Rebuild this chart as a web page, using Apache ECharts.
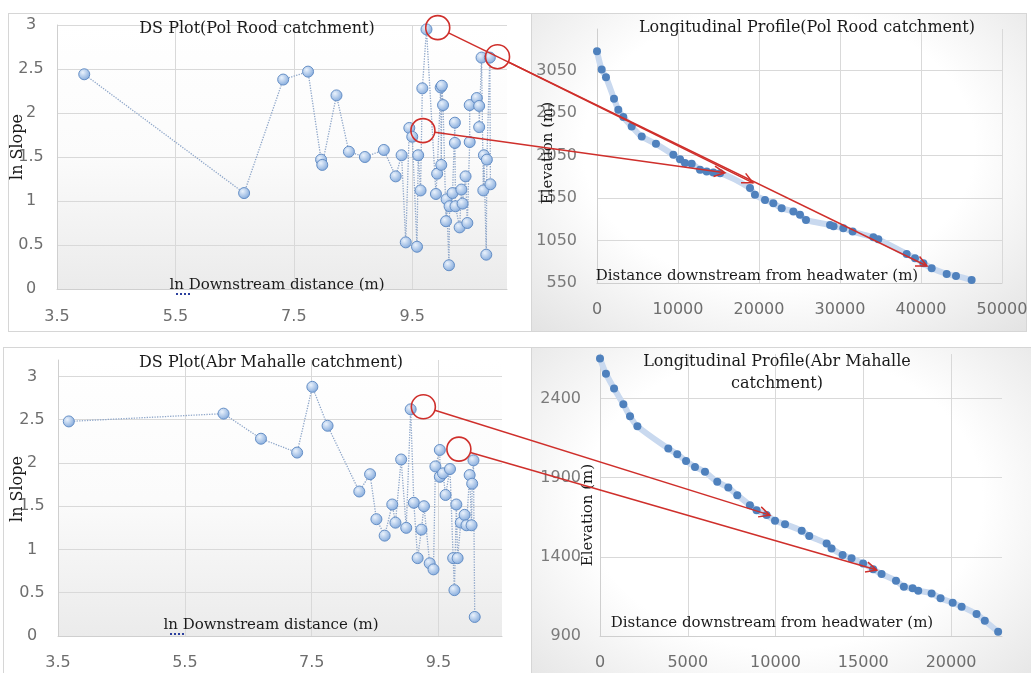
<!DOCTYPE html>
<html><head><meta charset="utf-8">
<script src="https://cdn.jsdelivr.net/npm/echarts@6/dist/echarts.min.js"></script>
<style>
html,body{margin:0;padding:0;background:#fff;}
#wrap{position:relative;width:1031px;height:673px;overflow:hidden;}
.panel{position:absolute;box-sizing:border-box;border:1px solid #d6d6d6;}
#chart{position:absolute;left:0;top:0;width:1031px;height:673px;}
</style></head><body>
<div id="wrap">
<div class="panel" style="left:8px;top:13px;width:524px;height:319px;background:#fff"></div>
<div class="panel" style="left:531px;top:13px;width:496px;height:319px;background:radial-gradient(ellipse 72% 80% at 50% 42%, #ffffff 55%, #e3e3e3 100%)"></div>
<div class="panel" style="left:3px;top:347px;width:529px;height:340px;background:#fff"></div>
<div class="panel" style="left:531px;top:347px;width:505px;height:340px;background:radial-gradient(ellipse 72% 80% at 50% 45%, #ffffff 55%, #e3e3e3 100%)"></div>
<div id="chart"></div>
</div>
<script>
// ---------- DATA ----------
// DS plot, Pol Rood catchment (ln downstream distance, ln slope)
const dsPolLnDist = [3.96,6.66,7.32,7.74,7.96,7.98,8.22,8.43,8.70,9.02,9.22,9.32,9.39,9.45,9.50,9.58,9.60,9.64,9.67,9.74,9.90,9.92,9.98,9.99,10.00,10.02,10.07,10.08,10.12,10.13,10.18,10.22,10.22,10.23,10.30,10.33,10.35,10.40,10.43,10.47,10.47,10.59,10.63,10.63,10.67,10.70,10.71,10.75,10.76,10.81,10.82];
const dsPolLnSlope = [2.44,1.09,2.38,2.47,1.47,1.41,2.20,1.56,1.50,1.58,1.28,1.52,0.53,1.83,1.73,0.48,1.52,1.12,2.28,2.95,1.08,1.31,2.29,1.41,2.31,2.09,0.77,1.02,0.27,0.94,1.09,1.89,1.66,0.94,0.70,1.13,0.97,1.28,0.75,1.67,2.09,2.17,2.08,1.84,2.63,1.12,1.52,0.39,1.47,2.63,1.19];
// Longitudinal profile, Pol Rood catchment
const polDist = [0,580,1110,2100,2630,3250,4280,5520,7280,9420,10250,10860,11690,12720,13540,14360,15190,18890,19500,20740,21770,22800,24240,25060,25800,28770,29200,30410,31560,34120,34730,38230,39260,40290,41320,43170,44320,46250];
const polElev = [3278,3062,2972,2720,2590,2503,2393,2275,2188,2060,2008,1962,1953,1883,1863,1850,1843,1667,1588,1528,1490,1430,1392,1352,1293,1233,1218,1195,1155,1088,1065,892,842,782,723,657,633,585];
// DS plot, Abr Mahalle catchment
const dsAbrLnDist = [3.67,6.11,6.70,7.27,7.51,7.75,8.25,8.42,8.52,8.65,8.77,8.82,8.91,8.99,9.06,9.11,9.17,9.23,9.27,9.36,9.42,9.45,9.52,9.52,9.57,9.61,9.68,9.73,9.75,9.78,9.80,9.85,9.91,9.94,9.99,10.02,10.03,10.05,10.07];
const dsAbrLnSlope = [2.48,2.57,2.28,2.12,2.88,2.43,1.67,1.87,1.35,1.16,1.52,1.31,2.04,1.25,2.62,1.54,0.90,1.23,1.50,0.84,0.77,1.96,2.15,1.84,1.88,1.63,1.93,0.90,0.53,1.52,0.90,1.31,1.40,1.28,1.86,1.28,1.76,2.03,0.22];
// Longitudinal profile, Abr Mahalle catchment
const abrDist = [0,340,800,1330,1710,2130,3890,4400,4900,5410,5980,6680,7310,7820,8540,8920,9490,9970,10540,11490,11920,12910,13190,13820,14330,14990,15560,16040,16860,17310,17810,18130,18890,19400,20090,20600,21450,21920,22680];
const abrElev = [2651,2556,2462,2363,2287,2224,2083,2048,2005,1967,1936,1873,1837,1789,1726,1694,1663,1627,1606,1564,1531,1484,1453,1411,1390,1358,1321,1291,1249,1211,1201,1186,1169,1138,1110,1085,1039,996,927];
// Texts
const titles = ['DS Plot(Pol Rood catchment)','Longitudinal Profile(Pol Rood catchment)','DS Plot(Abr Mahalle catchment)','Longitudinal Profile(Abr Mahalle','catchment)'];
const xNames = ['ln Downstream distance (m)','Distance downstream from headwater (m)'];
const yNames = ['ln Slope','Elevation (m)'];
// Annotations: circled DS points [grid, x, y] -> arrow tip on profile [grid, x, y]
const annFrom = [[0,9.93,2.97],[0,10.94,2.64],[0,9.68,1.80],[2,9.26,2.65],[2,9.82,2.16]];
const annTo   = [[1,40740,750],[1,19260,1729],[1,15800,1847],[3,9680,1663],[3,15770,1316]];

// ---------- CHART ----------
const zip = (a,b) => a.map((v,i)=>[v,b[i]]);
const chart = echarts.init(document.getElementById('chart'));
const plotBg = {type:'linear',x:0,y:0,x2:0,y2:1,colorStops:[{offset:0,color:'#ffffff'},{offset:0.5,color:'#fbfbfb'},{offset:1,color:'#ebebeb'}]};
const tickLab = (margin, extra) => Object.assign({fontFamily:'DejaVu Sans',fontSize:16,color:'#6e6e6e',margin:margin,showMaxLabel:false,formatter:v=>String(v)}, extra||{});
const split = {show:true,showMaxLine:false,lineStyle:{color:'#d9d9d9',width:1}};
const axLine = {show:true,onZero:false,lineStyle:{color:'#cfcfcf',width:1}};
const sphere = {type:'radial',x:0.38,y:0.35,r:0.7,colorStops:[{offset:0,color:'#eaf2fc'},{offset:1,color:'#7ea6da'}]};

const dsSeries = (xi, data) => ({type:'line',xAxisIndex:xi,yAxisIndex:xi,data:data,symbol:'circle',symbolSize:11,
  lineStyle:{type:'dotted',color:'#8ea6c9',width:1.3},itemStyle:{color:sphere,borderColor:'#658fc6',borderWidth:1},z:3});
const profSeries = (xi, data) => ({type:'line',xAxisIndex:xi,yAxisIndex:xi,data:data,smooth:0.3,symbol:'circle',symbolSize:8,
  showAllSymbol:true,lineStyle:{color:'#c9d9ef',width:6},itemStyle:{color:'#4f81bd'},z:3});

chart.setOption({
  animation:false,
  grid:[
    {left:57,top:25,width:450,height:264,show:true,borderWidth:0,backgroundColor:plotBg},
    {left:597,top:29,width:405,height:254},
    {left:58,top:360,width:444,height:276,show:true,borderWidth:0,backgroundColor:plotBg},
    {left:600,top:354,width:402,height:282}
  ],
  xAxis:[
    {gridIndex:0,type:'value',min:3.5,max:11.1,interval:2,axisLine:axLine,axisTick:{show:false},axisLabel:tickLab(20),splitLine:split},
    {gridIndex:1,type:'value',min:0,max:50000,interval:10000,axisLine:axLine,axisTick:{show:false},axisLabel:tickLab(19,{showMaxLabel:true}),splitLine:{show:true,lineStyle:{color:'#d9d9d9'}}},
    {gridIndex:2,type:'value',min:3.5,max:10.5,interval:2,axisLine:axLine,axisTick:{show:false},axisLabel:tickLab(19),splitLine:split},
    {gridIndex:3,type:'value',min:0,max:22900,interval:5000,axisLine:axLine,axisTick:{show:false},axisLabel:tickLab(19),splitLine:split}
  ],
  yAxis:[
    {gridIndex:0,type:'value',min:0,max:3,interval:0.5,axisLine:axLine,axisTick:{show:false},axisLabel:tickLab(26,{align:'center',showMaxLabel:true}),splitLine:{show:true,lineStyle:{color:'#d9d9d9'}}},
    {gridIndex:1,type:'value',min:550,max:3540,interval:500,axisLine:axLine,axisTick:{show:false},axisLabel:tickLab(20,{color:'#7a7a7a'}),splitLine:split},
    {gridIndex:2,type:'value',min:0,max:3.19,interval:0.5,axisLine:axLine,axisTick:{show:false},axisLabel:tickLab(26,{align:'center'}),splitLine:split},
    {gridIndex:3,type:'value',min:900,max:2680,interval:500,axisLine:axLine,axisTick:{show:false},axisLabel:tickLab(19,{color:'#7a7a7a'}),splitLine:split}
  ],
  series:[
    dsSeries(0, zip(dsPolLnDist, dsPolLnSlope)),
    profSeries(1, zip(polDist, polElev)),
    dsSeries(2, zip(dsAbrLnDist, dsAbrLnSlope)),
    profSeries(3, zip(abrDist, abrElev))
  ]
});

// ---------- TEXT + ANNOTATIONS ----------
const serif = sz => sz + 'px "DejaVu Serif"';
function txt(s, x, y, size, rot){
  return {type:'text',x:x,y:y,rotation:rot||0,z:50,
    style:{text:s,font:serif(size),fill:'#1a1a1a',align:'center',verticalAlign:'middle',textAlign:'center',textVerticalAlign:'middle'}};
}
const g = [
  txt(titles[0],257,29,16), txt(titles[1],807,28,16), txt(titles[2],271,363,16),
  txt(titles[3],777,362,16), txt(titles[4],777,384,16),
  txt(xNames[0],277,285,15), txt(xNames[1],757,276,15), txt(xNames[0],271,625,15), txt(xNames[1],772,623,15),
  txt(yNames[0],18,147,16,Math.PI/2), txt(yNames[1],548,153,15,Math.PI/2),
  txt(yNames[0],18,489,16,Math.PI/2), txt(yNames[1],588,515,15,Math.PI/2),
  {type:'line',z:51,shape:{x1:176,y1:294,x2:190,y2:294},style:{stroke:'#2b3f9e',lineWidth:2,lineDash:[2,2]}},
  {type:'line',z:51,shape:{x1:170,y1:634,x2:184,y2:634},style:{stroke:'#2b3f9e',lineWidth:2,lineDash:[2,2]}}
];
const red = '#cf2f2b', R = 12;
annFrom.forEach((f,i)=>{
  const t = annTo[i];
  const c = chart.convertToPixel({gridIndex:f[0]}, [f[1],f[2]]);
  const p = chart.convertToPixel({gridIndex:t[0]}, [t[1],t[2]]);
  const dx=p[0]-c[0], dy=p[1]-c[1], L=Math.hypot(dx,dy), ux=dx/L, uy=dy/L;
  const s=[c[0]+ux*R, c[1]+uy*R];
  const a=0.45, h=12, ca=Math.cos(a), sa=Math.sin(a);
  const l=[p[0]-h*(ux*ca-uy*sa), p[1]-h*(uy*ca+ux*sa)];
  const r=[p[0]-h*(ux*ca+uy*sa), p[1]-h*(uy*ca-ux*sa)];
  g.push({type:'circle',z:60,shape:{cx:c[0],cy:c[1],r:R},style:{fill:'rgba(0,0,0,0)',stroke:red,lineWidth:1.6}});
  g.push({type:'line',z:60,shape:{x1:s[0],y1:s[1],x2:p[0],y2:p[1]},style:{stroke:red,lineWidth:1.5}});
  g.push({type:'polyline',z:60,shape:{points:[l,p,r]},style:{stroke:red,lineWidth:1.5,fill:null}});
});
chart.setOption({graphic:g});
</script>
</body></html>
